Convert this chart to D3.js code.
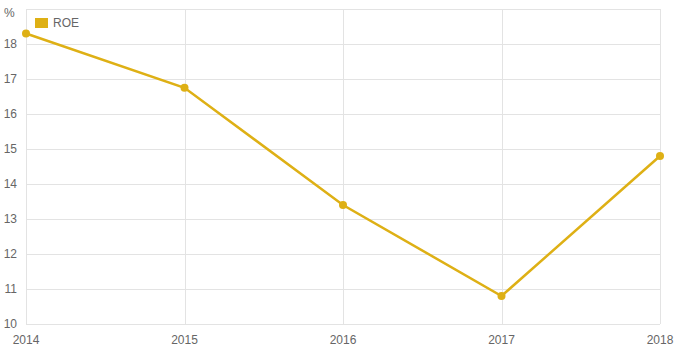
<!DOCTYPE html>
<html>
<head>
<meta charset="utf-8">
<script src="https://cdn.jsdelivr.net/npm/d3@7"></script>
<style>
  body { margin: 0; background: #fff; }
  svg text { font-family: "Liberation Sans", Arial, sans-serif; fill: #666; }
</style>
</head>
<body>
<div id="chart"></div>
<script>
// chart data
var years = ["2014", "2015", "2016", "2017", "2018"];
var roeValues = [18.3, 16.75, 13.4, 10.8, 14.8];
var yTicks = [10, 11, 12, 13, 14, 15, 16, 17, 18, 19];
var seriesName = "ROE";
var seriesColor = "#deb015";

var width = 677, height = 355;
var margin = { top: 9, right: 17, bottom: 31, left: 26 };

var svg = d3.select("#chart")
  .append("svg")
  .attr("width", width)
  .attr("height", height);

var x = d3.scalePoint()
  .domain(years)
  .range([margin.left, width - margin.right]);

var y = d3.scaleLinear()
  .domain([10, 19])
  .range([height - margin.bottom, margin.top]);

// horizontal grid
svg.append("g")
  .selectAll("line")
  .data(yTicks)
  .enter()
  .append("line")
  .attr("x1", margin.left)
  .attr("x2", width - margin.right)
  .attr("y1", function(d) { return Math.round(y(d)) + 0.5; })
  .attr("y2", function(d) { return Math.round(y(d)) + 0.5; })
  .style("stroke", "#e3e3e3");

// vertical grid
svg.append("g")
  .selectAll("line")
  .data(years)
  .enter()
  .append("line")
  .attr("x1", function(d) { return Math.round(x(d)) + 0.5; })
  .attr("x2", function(d) { return Math.round(x(d)) + 0.5; })
  .attr("y1", margin.top)
  .attr("y2", height - margin.bottom)
  .style("stroke", "#e3e3e3");

// y labels (top one replaced by unit)
svg.append("g")
  .selectAll("text")
  .data(yTicks.slice(0, -1))
  .enter()
  .append("text")
  .attr("x", 17)
  .attr("y", function(d) { return y(d) + 4; })
  .attr("text-anchor", "end")
  .style("font-size", "12px")
  .text(function(d) { return d; });

svg.append("text")
  .attr("x", 4)
  .attr("y", 17)
  .style("font-size", "12px")
  .text("%");

// x labels
svg.append("g")
  .selectAll("text")
  .data(years)
  .enter()
  .append("text")
  .attr("x", function(d) { return x(d); })
  .attr("y", height - 11)
  .attr("text-anchor", "middle")
  .style("font-size", "12px")
  .text(function(d) { return d; });

// line
var line = d3.line()
  .x(function(d, i) { return x(years[i]); })
  .y(function(d) { return y(d); });

svg.append("path")
  .datum(roeValues)
  .attr("d", line)
  .style("fill", "none")
  .style("stroke", seriesColor)
  .style("stroke-width", 2.5);

svg.append("g")
  .selectAll("circle")
  .data(roeValues)
  .enter()
  .append("circle")
  .attr("cx", function(d, i) { return x(years[i]); })
  .attr("cy", function(d) { return y(d); })
  .attr("r", 4)
  .style("fill", seriesColor);

// legend
svg.append("rect")
  .attr("x", 35)
  .attr("y", 18)
  .attr("width", 13)
  .attr("height", 10)
  .style("fill", seriesColor);

svg.append("text")
  .attr("x", 53)
  .attr("y", 27)
  .style("font-size", "12px")
  .text(seriesName);
</script>
</body>
</html>
